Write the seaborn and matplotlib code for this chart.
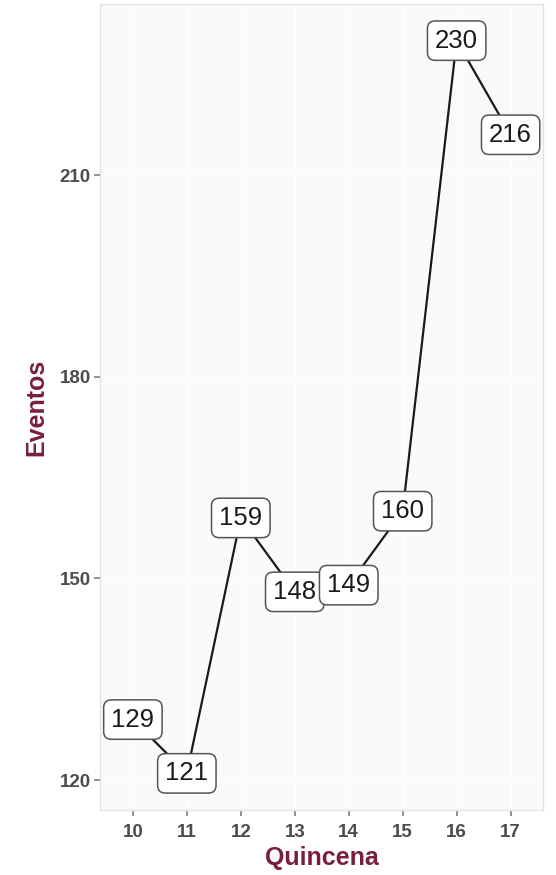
import matplotlib.pyplot as plt
import seaborn as sns
import pandas as pd

# datos
quincena = [10, 11, 12, 13, 14, 15, 16, 17]
eventos = [129, 121, 159, 148, 149, 160, 230, 216]

df = pd.DataFrame({"Quincena": quincena, "Eventos": eventos})

sns.set_theme(style="white")
plt.rcParams["font.family"] = ["Liberation Sans", "DejaVu Sans"]

fig, ax = plt.subplots(figsize=(5.56, 8.75), dpi=100)
fig.subplots_adjust(left=100.5 / 556, right=543 / 556, top=1 - 4 / 875, bottom=1 - 810 / 875)

ax.set_facecolor("#FAFAFA")
ax.grid(True, color="white", linewidth=0.8)
ax.set_axisbelow(True)

sns.lineplot(data=df, x="Quincena", y="Eventos", ax=ax, color="#1a1a1a", linewidth=1.6)

# etiquetas tipo geom_label
for x, y in zip(quincena, eventos):
    ax.text(x, y, f"{y}", ha="center", va="center", fontsize=18.5, color="#1a1a1a",
            bbox=dict(boxstyle="round,pad=0.3,rounding_size=0.3", fc="white", ec="#555555", lw=1.1))

# expansion como ggplot (discreto 0.6, continuo 5%)
ax.set_xlim(min(quincena) - 0.6, max(quincena) + 0.6)
rng = max(eventos) - min(eventos)
ax.set_ylim(min(eventos) - 0.05 * rng, max(eventos) + 0.05 * rng)
ax.set_xticks(quincena)
ax.set_yticks([120, 150, 180, 210])

for s in ax.spines.values():
    s.set_color("#E3E3E3")
    s.set_linewidth(1.0)

ax.tick_params(axis="both", which="both", length=4, width=1.2, color="#7F7F7F",
               labelsize=13.5, labelcolor="#4D4D4D", bottom=True, left=True)
ax.tick_params(axis="x", pad=6)
ax.tick_params(axis="y", pad=3)
for lbl in ax.get_xticklabels() + ax.get_yticklabels():
    lbl.set_fontweight("bold")

ax.set_xlabel("Quincena", fontsize=18, fontweight="bold", color="#7A1E3E", labelpad=4)
ax.set_ylabel("Eventos", fontsize=18, fontweight="bold", color="#7A1E3E", labelpad=8)

plt.savefig("out.png", dpi=100)
plt.close()
